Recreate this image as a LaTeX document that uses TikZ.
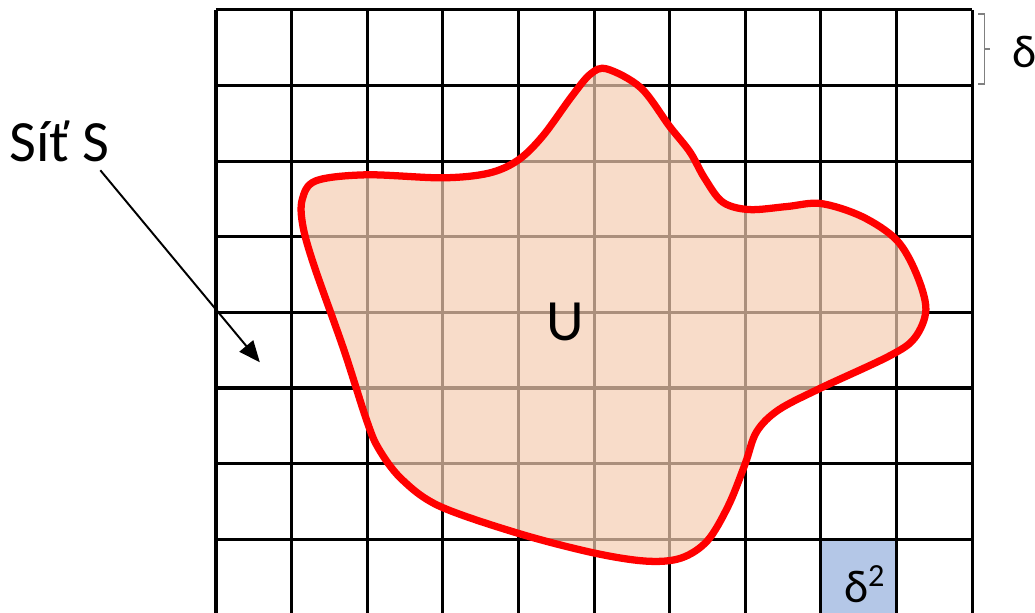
\documentclass[tikz,border=0pt]{standalone}
\usepackage{fontspec}
\setmainfont{Carlito}
\usetikzlibrary{arrows.meta,positioning}

\definecolor{regfill}{RGB}{245,205,178}
\definecolor{cellblue}{RGB}{180,199,231}
\definecolor{bracegray}{RGB}{128,128,128}

\begin{document}
\begin{tikzpicture}[
  x=1.5cm, y=-1.5cm,
  gridline/.style={draw=black, line width=1.7pt},
  region/.style={draw=red, line width=4.1pt, fill=regfill, fill opacity=0.7, line join=round},
  lbl/.style={font=\fontsize{33}{38}\selectfont, inner sep=0pt},
  dlbl/.style={font=\fontsize{26}{30}\selectfont, inner sep=0pt},
  >={Triangle[length=12pt,width=10pt]}
]
  \useasboundingbox (-2.857,-0.132) rectangle (10.833,7.976);

  % highlighted cell
  \fill[cellblue] (8,7) rectangle (9,7.976);

  % the net S
  \foreach \j in {0,...,7}
    \draw[gridline] (0,\j) -- (10,\j);
  \foreach \i in {0,...,10}
    \draw[gridline] (\i,0) -- (\i,7.976);

  % the set U
  \draw[region] plot[smooth cycle, tension=0.55] coordinates {
    (5.17,0.78) (5.62,1.03) (6.0,1.54) (6.27,1.88) (6.46,2.22) (6.70,2.54)
    (7.05,2.64) (7.55,2.60) (8.0,2.56) (8.54,2.73) (9.0,3.04) (9.26,3.48)
    (9.39,3.96) (9.24,4.34) (8.9,4.58) (8.0,5.0) (7.44,5.29) (7.15,5.58)
    (7.0,6.0) (6.78,6.55) (6.5,7.02) (6.15,7.25) (5.69,7.29) (4.99,7.18)
    (3.99,6.92) (2.95,6.56) (2.45,6.2) (2.15,5.8) (1.99,5.42) (1.69,4.49)
    (1.30,3.39) (1.15,2.86) (1.14,2.51) (1.32,2.26) (1.99,2.18) (2.99,2.22)
    (3.6,2.16) (3.99,1.99) (4.32,1.67) (4.70,1.15) (4.95,0.85)};

  \node[lbl] (setU) at (4.62,4.13) {U};
  \node[lbl] (sit) at (-2.07,1.74) {Síť S};
  \node[dlbl] (delta) at (10.70,0.56) {δ};
  \node[dlbl] (delta2) at (8.58,7.6) {δ\textsuperscript{2}};

  % brace for one cell
  \coordinate (brTop) at (10.08,0.053);
  \coordinate (brBot) at (10.08,0.979);
  \draw[bracegray, line width=0.6pt] (brTop) -- ++(0.09,0) |- (brBot);
  \draw[bracegray, line width=0.6pt] (10.17,0.516) -- ++(0.07,0);

  % arrow to the net
  \coordinate (arrFrom) at (-1.53,2.12);
  \coordinate (arrTo) at (0.58,4.66);
  \draw[->, line width=1.1pt] (arrFrom) -- (arrTo);
\end{tikzpicture}
\end{document}
